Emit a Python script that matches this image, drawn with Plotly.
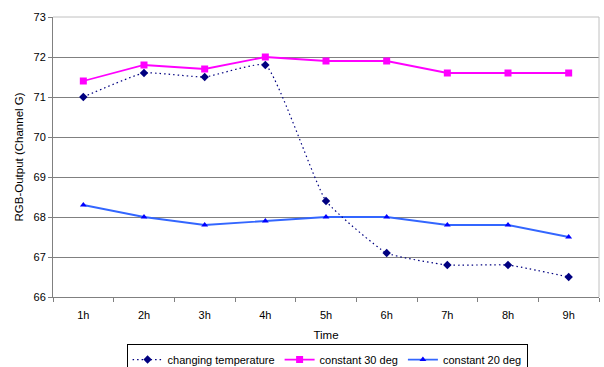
import plotly.graph_objects as go

categories = ["1h", "2h", "3h", "4h", "5h", "6h", "7h", "8h", "9h"]
changing_temp = [71.0, 71.6, 71.5, 71.8, 68.4, 67.1, 66.8, 66.8, 66.5]
const_30 = [71.4, 71.8, 71.7, 72.0, 71.9, 71.9, 71.6, 71.6, 71.6]
const_20 = [68.3, 68.0, 67.8, 67.9, 68.0, 68.0, 67.8, 67.8, 67.5]

font = dict(family="Liberation Sans, Arial, sans-serif", size=11, color="black")
title_font = dict(family="Liberation Sans, Arial, sans-serif", size=11.5, color="black")

fig = go.Figure()
fig.add_trace(go.Scatter(
    x=categories, y=const_30, name="constant 30 deg",
    mode="lines+markers",
    line=dict(color="#FF00FF", width=1.8),
    marker=dict(symbol="square", size=7, color="#FF00FF"),
    legendrank=2,
))
fig.add_trace(go.Scatter(
    x=categories, y=const_20, name="constant 20 deg",
    mode="lines+markers",
    line=dict(color="#3366FF", width=1.8),
    marker=dict(symbol="triangle-up", size=6, color="#0000FF"),
    legendrank=3,
))
fig.add_trace(go.Scatter(
    x=categories, y=changing_temp, name="changing temperature",
    mode="lines+markers",
    line=dict(color="#000080", width=1.2, dash="1.5px,3px", shape="spline", smoothing=0.4),
    marker=dict(symbol="diamond", size=6.5, color="#000080"),
    legendrank=1,
))

fig.update_layout(
    width=604, height=367,
    margin=dict(l=53, r=5, t=17, b=70, autoexpand=False),
    paper_bgcolor="white", plot_bgcolor="white",
    font=font,
    showlegend=True,
    legend=dict(
        orientation="h", x=0.502, y=-0.168, xanchor="center", yanchor="top",
        bordercolor="black", borderwidth=1, font=font,
        itemwidth=30, tracegroupgap=0,
    ),
    xaxis=dict(
        type="category", range=[-0.5, 8.5],
        showgrid=False, showline=True, linecolor="#808080", linewidth=1,
        ticks="outside", ticklen=4, tickcolor="#808080", tickson="boundaries",
        tickfont=font, ticklabelstandoff=8,
        title=dict(text="Time", font=title_font, standoff=10),
    ),
    yaxis=dict(
        range=[66, 73], dtick=1, tick0=66,
        showgrid=True, gridcolor="#808080", gridwidth=1,
        showline=True, linecolor="#808080", linewidth=1,
        ticks="outside", ticklen=4, tickcolor="#808080",
        tickfont=font, zeroline=False,
        title=dict(text="RGB-Output (Channel G)", font=title_font, standoff=7),
    ),
    shapes=[
        dict(type="line", xref="paper", yref="paper", x0=0, x1=1, y0=1, y1=1,
             line=dict(color="#C0C0C0", width=1), layer="above"),
        dict(type="line", xref="paper", yref="paper", x0=1, x1=1, y0=0, y1=1,
             line=dict(color="#C0C0C0", width=1), layer="above"),
    ],
)

fig.write_html("out.html")
